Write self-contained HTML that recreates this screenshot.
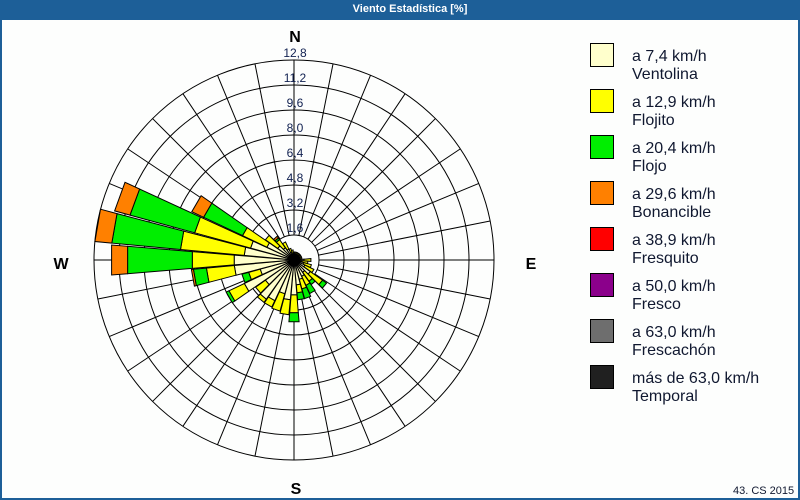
<!DOCTYPE html>
<html><head><meta charset="utf-8"><style>
body{margin:0;width:800px;height:500px;overflow:hidden;background:#fff;font-family:"Liberation Sans",sans-serif}
#f{position:absolute;left:0;top:0;width:796px;height:478px;border:2px solid #1d5f98;border-top:20px solid #1d5f98;background:#fdfefd}
#t{position:absolute;left:0;top:3px;width:820px;text-align:center;color:#fff;font-weight:bold;font-size:11px}
</style></head><body>
<div id="f"></div><div id="t">Viento Estadística [%]</div>
<svg id="s" width="800" height="500" style="position:absolute;left:0;top:0" xmlns="http://www.w3.org/2000/svg"></svg>
<script>
var s=document.getElementById('s'),cx=294,cy=260,h='';
var C=['#ffffcc','#ffff00','#00ee00','#ff8000'];
var D={0:[5,8],10:[5,8],20:[5,8],30:[5,8],40:[5,8],50:[5,8],60:[5,8],70:[5,8],80:[5,8],
90:[10,17],100:[8,14],110:[10,18],120:[12,22],130:[20,35,40],140:[15,26,30],150:[18,28,37],160:[20,30,40],170:[25,33,40],
180:[35,53,62],190:[40,55],200:[35,53],210:[45,52],220:[48,52],230:[35,47],240:[55,72,75],250:[35,47,54],260:[60,88,101,103],
270:[60,102,167,183],280:[50,114,183,200],290:[45,103,170,186],300:[30,57,100,113],310:[20,35],320:[15,25,27,29],330:[12,20],340:[8,12],350:[6,10]};
function P(a,r){var t=(a-90)*Math.PI/180;return (cx+r*Math.cos(t)).toFixed(1)+','+(cy+r*Math.sin(t)).toFixed(1);}
for(var i=1;i<=8;i++)h+='<circle cx="'+cx+'" cy="'+cy+'" r="'+(i*25)+'" fill="none" stroke="#000" stroke-width="1"/>';
for(var a=0;a<360;a+=11.25){var t=(a-90)*Math.PI/180;h+='<line x1="'+(cx+25*Math.cos(t))+'" y1="'+(cy+25*Math.sin(t))+'" x2="'+(cx+200*Math.cos(t))+'" y2="'+(cy+200*Math.sin(t))+'" stroke="#000"/>';}
for(var k in D){var a=+k,v=D[k],r0=0;for(var j=0;j<v.length;j++){var r1=v[j];
h+='<polygon points="'+P(a-4.7,r0)+' '+P(a-4.7,r1)+' '+P(a+4.7,r1)+' '+P(a+4.7,r0)+'" fill="'+C[j]+'" stroke="#000" stroke-width="1"/>';r0=r1;}}
h+='<circle cx="'+cx+'" cy="'+cy+'" r="4" fill="#000"/>';
var L=['1,6','3,2','4,8','6,4','8,0','9,6','11,2','12,8'];
for(var i=0;i<8;i++)h+='<text x="'+(cx+1)+'" y="'+(cy-(i+1)*25-3)+'" text-anchor="middle" font-size="12" fill="#102050">'+L[i]+'</text>';
h+='<g font-weight="bold" font-size="16" fill="#000" text-anchor="middle"><text x="295" y="42">N</text><text x="61" y="269">W</text><text x="531" y="269">E</text><text x="296" y="494">S</text></g>';
var G=[['#ffffcc','a 7,4 km/h','Ventolina'],['#ffff00','a 12,9 km/h','Flojito'],['#00ee00','a 20,4 km/h','Flojo'],['#ff8000','a 29,6 km/h','Bonancible'],['#ff0000','a 38,9 km/h','Fresquito'],['#8b008b','a 50,0 km/h','Fresco'],['#6e6e6e','a 63,0 km/h','Frescachón'],['#202020','más de 63,0 km/h','Temporal']];
for(var i=0;i<8;i++){var y=43+i*46;h+='<rect x="590.5" y="'+(y+.5)+'" width="23" height="23" fill="'+G[i][0]+'" stroke="#000"/>';
h+='<text x="632" y="'+(y+18)+'" font-size="16" fill="#101830">'+G[i][1]+'</text><text x="632" y="'+(y+36)+'" font-size="16" fill="#101830">'+G[i][2]+'</text>';}
h+='<text x="733" y="494" font-size="11" fill="#101830">43. CS 2015</text>';
s.innerHTML=h;
</script>
</body></html>
